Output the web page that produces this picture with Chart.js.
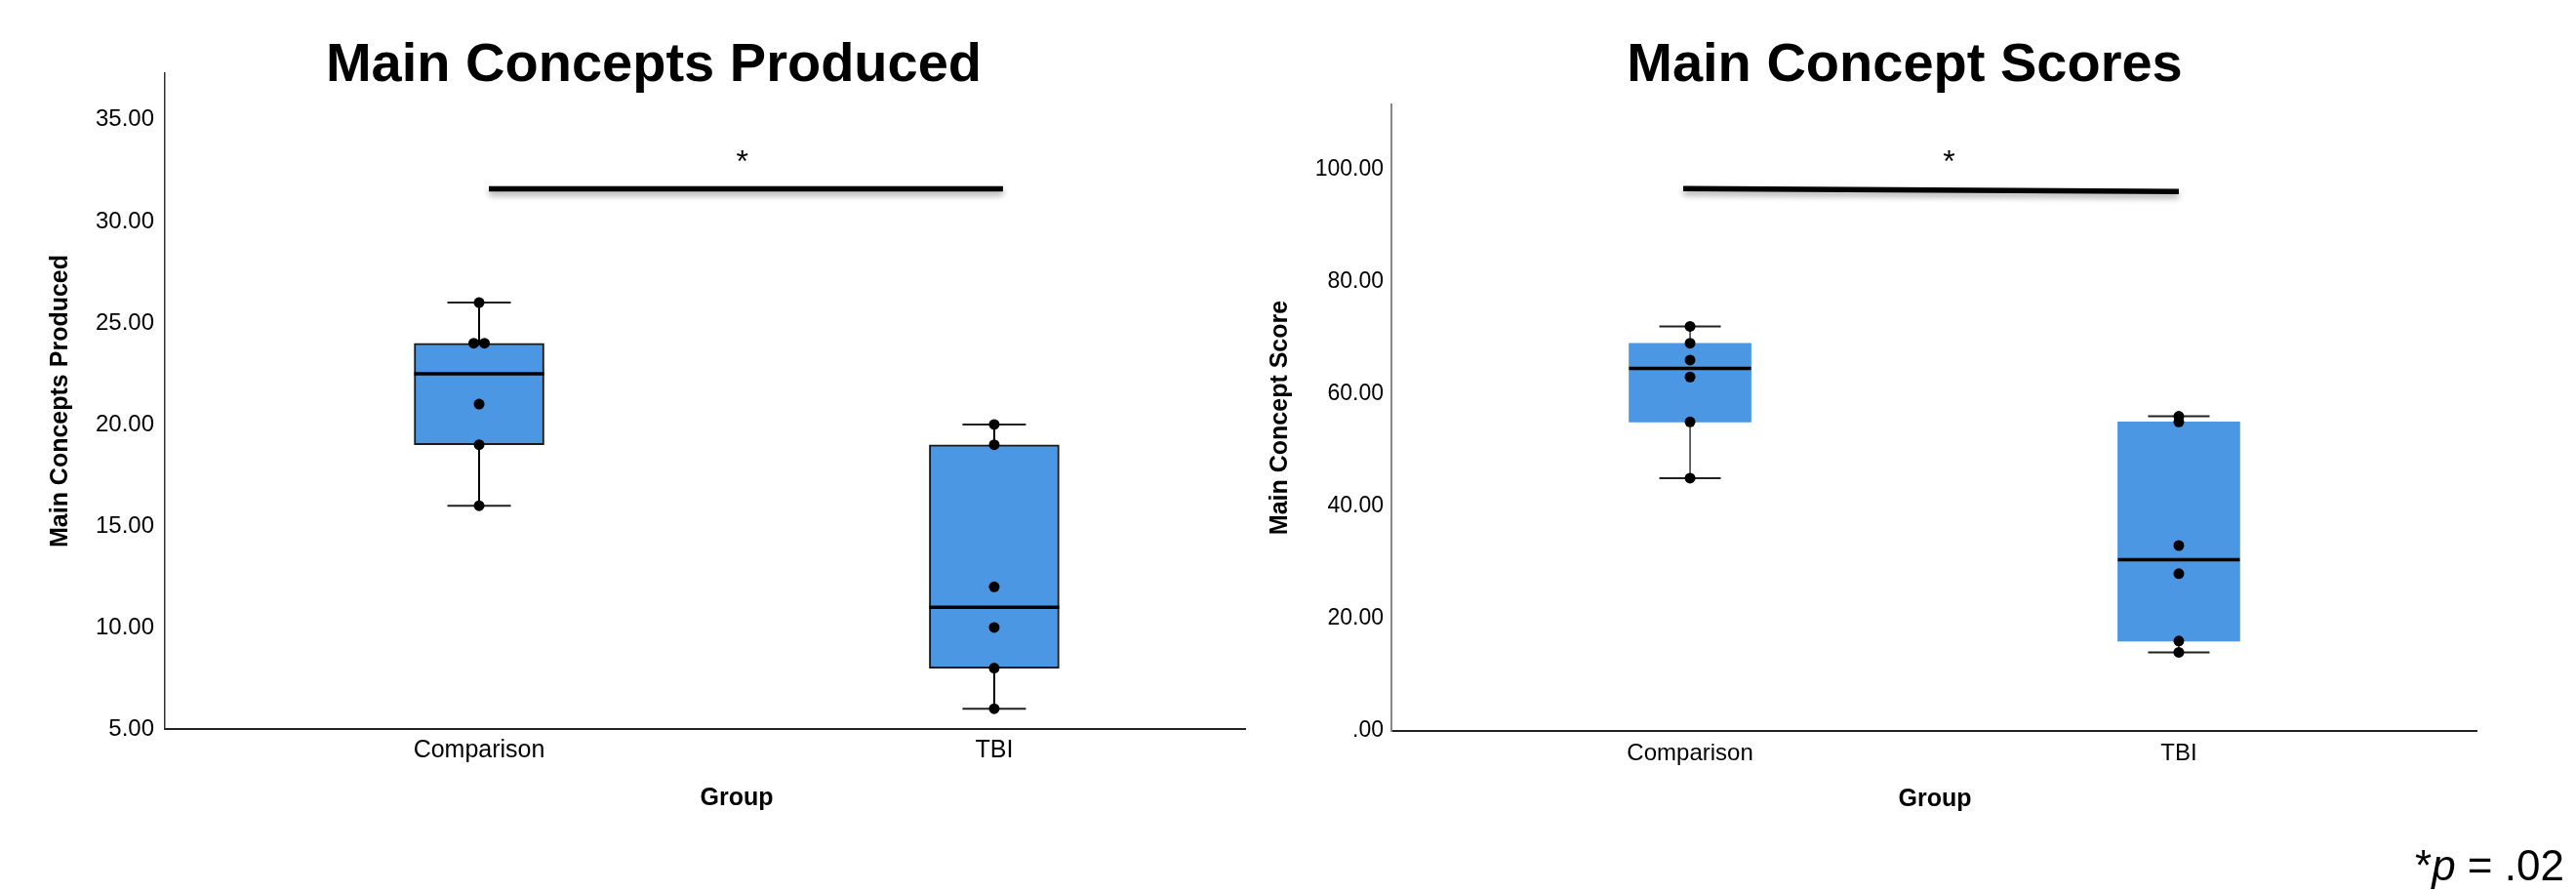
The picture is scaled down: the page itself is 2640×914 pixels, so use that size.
<!DOCTYPE html>
<html>
<head>
<meta charset="utf-8">
<title>Main Concepts</title>
<script src="https://cdn.jsdelivr.net/npm/chart.js@4.4.1/dist/chart.umd.min.js"></script>
<style>
  html, body { margin: 0; padding: 0; background: #fff; }
  body { width: 2640px; height: 914px; position: relative; overflow: hidden; font-family: 'Liberation Sans', Arial, sans-serif; color: #000; }
  canvas { position: absolute; top: 0; }
  #producedChart { left: 0; }
  #scoreChart { left: 1280px; }
  .title { position: absolute; top: 36px; font-weight: bold; font-size: 56px; line-height: 56px; white-space: nowrap; transform: translateX(-50%); }
  .xlabel { position: absolute; font-weight: bold; font-size: 25px; line-height: 25px; white-space: nowrap; transform: translateX(-50%); }
  .note { position: absolute; left: 2475px; top: 865px; font-size: 44px; line-height: 44px; white-space: nowrap; }
</style>
</head>
<body>
<div class="title" style="left:670px">Main Concepts Produced</div>
<div class="title" style="left:1952px">Main Concept Scores</div>
<canvas id="producedChart" width="1290" height="914"></canvas>
<canvas id="scoreChart" width="1320" height="914"></canvas>
<div class="xlabel" style="left:755px; top:804px">Group</div>
<div class="xlabel" style="left:1983px; top:805px">Group</div>
<div class="note">*<i>p</i> = .02</div>

<script>
const groups = ['Comparison', 'TBI'];

// Main Concepts Produced
const producedComparison = [26, 24, 24, 21, 19, 16];
const producedTBI = [20, 19, 12, 10, 8, 6];
const producedMin = [16, 6];
const producedQ1 = [19, 8];
const producedMedian = [22.5, 11];
const producedQ3 = [24, 19];
const producedMax = [26, 20];
const producedTicks = [5, 10, 15, 20, 25, 30, 35];
const producedSigX = [1.019, 2.017];
const producedSigY = [31.6, 31.6];
const producedStar = [1.511, 33.1];

// Main Concept Scores
const scoreComparison = [72, 69, 66, 63, 55, 45];
const scoreTBI = [56, 55, 33, 28, 16, 14];
const scoreMin = [45, 14];
const scoreQ1 = [55, 16];
const scoreMedian = [64.5, 30.5];
const scoreQ3 = [69, 55];
const scoreMax = [72, 56];
const scoreTicks = [0, 20, 40, 60, 80, 100];
const scoreSigX = [0.986, 2.0];
const scoreSigY = [96.5, 96.0];
const scoreStar = [1.53, 101.9];

const BOX_BLUE = '#4c97e3';
const STAR_SIZE = 32;

Chart.defaults.font.family = "'Liberation Sans', Arial, sans-serif";
Chart.defaults.color = '#000';

// equal values sit side by side instead of on top of each other
function dodge(values, xi, step) {
  const seen = {};
  return values.map(v => {
    const n = values.filter(w => w === v).length;
    const k = seen[v] = (seen[v] || 0) + 1;
    return { x: xi + (n > 1 ? (k - 1 - (n - 1) / 2) * step : 0), y: v };
  });
}

const boxPlot = {
  id: 'boxPlot',
  beforeDatasetsDraw(chart, args, o) {
    const { ctx, scales: { x, y } } = chart;
    ctx.save();
    ctx.strokeStyle = '#000';
    ctx.lineWidth = o.whiskerWidth;
    o.min.forEach((lo, i) => {
      const px = x.getPixelForValue(i + 1);
      ctx.beginPath();
      ctx.moveTo(px, y.getPixelForValue(lo));
      ctx.lineTo(px, y.getPixelForValue(o.max[i]));
      ctx.stroke();
    });
    ctx.restore();
  },
  beforeDatasetDraw(chart, args) {
    if (args.meta.type !== 'line') return;
    const ctx = chart.ctx;
    ctx.save();
    ctx.shadowColor = 'rgba(0,0,0,0.35)';
    ctx.shadowBlur = 6;
    ctx.shadowOffsetY = 4;
  },
  afterDatasetDraw(chart, args, o) {
    const { ctx, scales: { x, y } } = chart;
    if (args.meta.type === 'line') { ctx.restore(); return; }
    if (args.meta.type !== 'bar') return;
    ctx.save();
    ctx.strokeStyle = o.capColor;
    ctx.lineWidth = o.capWidth;
    o.min.forEach((lo, i) => {
      const px = x.getPixelForValue(i + 1);
      [lo, o.max[i]].forEach(v => {
        const py = y.getPixelForValue(v);
        ctx.beginPath();
        ctx.moveTo(px - o.capHalf, py);
        ctx.lineTo(px + o.capHalf, py);
        ctx.stroke();
      });
    });
    ctx.strokeStyle = '#000';
    ctx.lineWidth = o.medianWidth;
    o.median.forEach((m, i) => {
      const px = x.getPixelForValue(i + 1);
      const py = y.getPixelForValue(m);
      ctx.beginPath();
      ctx.moveTo(px - o.boxHalf, py);
      ctx.lineTo(px + o.boxHalf, py);
      ctx.stroke();
    });
    ctx.restore();
  },
  afterDatasetsDraw(chart, args, o) {
    const { ctx, scales: { x, y } } = chart;
    ctx.save();
    ctx.fillStyle = '#000';
    ctx.font = STAR_SIZE + "px 'Liberation Sans', Arial, sans-serif";
    ctx.textAlign = 'center';
    ctx.textBaseline = 'alphabetic';
    ctx.fillText('*', x.getPixelForValue(o.star[0]), y.getPixelForValue(o.star[1]) + STAR_SIZE * 0.42);
    ctx.restore();
  }
};

function buildChart(id, s) {
  return new Chart(document.getElementById(id), {
    type: 'bar',
    data: {
      datasets: [
        {
          type: 'bar',
          data: groups.map((g, i) => ({ x: i + 1, y: [s.q1[i], s.q3[i]] })),
          backgroundColor: BOX_BLUE,
          borderColor: '#1a1a1a',
          borderWidth: s.boxBorder,
          borderSkipped: false,
          barThickness: s.boxWidth,
          order: 3
        },
        {
          type: 'line',
          data: s.sigX.map((v, i) => ({ x: v, y: s.sigY[i] })),
          borderColor: '#000',
          borderWidth: 5.5,
          pointRadius: 0,
          order: 2
        },
        {
          type: 'scatter',
          data: [...dodge(s.first, 1, s.dodge), ...dodge(s.second, 2, s.dodge)],
          backgroundColor: '#000',
          borderWidth: 0,
          pointRadius: 5.5,
          order: 1
        }
      ]
    },
    options: {
      responsive: false,
      animation: false,
      events: [],
      layout: { padding: { top: s.padTop, right: s.padRight, left: 0, bottom: 0 } },
      plugins: {
        legend: { display: false },
        tooltip: { enabled: false },
        boxPlot: {
          min: s.min, median: s.median, max: s.max, star: s.star,
          boxHalf: s.boxWidth / 2, capHalf: s.capHalf, capWidth: 2, capColor: '#222',
          whiskerWidth: s.whiskerWidth, medianWidth: 3.5
        }
      },
      scales: {
        x: {
          type: 'linear',
          min: s.xMin,
          max: s.xMax,
          offset: false,
          grid: { display: false, drawTicks: false },
          border: { display: true, color: '#222', width: 2 },
          afterBuildTicks: sc => { sc.ticks = groups.map((g, i) => ({ value: i + 1 })); },
          ticks: { autoSkip: false, maxRotation: 0, padding: s.xTickPad, font: { size: s.xTickSize }, callback: v => groups[v - 1] },
          afterFit: sc => { sc.height = s.xAxisHeight; }
        },
        y: {
          type: 'linear',
          min: s.yMin,
          max: s.yMax,
          grid: { display: false, drawTicks: false },
          border: { display: true, color: s.yBorderColor, width: s.yBorderWidth },
          afterBuildTicks: sc => { sc.ticks = s.ticks.map(v => ({ value: v })); },
          ticks: { padding: s.yTickPad, font: { size: s.yTickSize }, callback: s.format },
          title: { display: true, text: s.yTitle, font: { size: 25, weight: 'bold' }, padding: { top: s.yTitlePad, bottom: 0 } },
          afterFit: sc => { sc.width = s.yAxisWidth; }
        }
      }
    },
    plugins: [boxPlot]
  });
}

buildChart('producedChart', {
  first: producedComparison, second: producedTBI,
  min: producedMin, q1: producedQ1, median: producedMedian, q3: producedQ3, max: producedMax,
  ticks: producedTicks, sigX: producedSigX, sigY: producedSigY, star: producedStar,
  format: v => v.toFixed(2),
  yTitle: 'Main Concepts Produced',
  yMin: 5, yMax: 37.3, xMin: 0.39, xMax: 2.487,
  boxWidth: 133, capHalf: 32.5, boxBorder: 2, whiskerWidth: 2, dodge: 0.0208,
  padTop: 75, padRight: 14, yAxisWidth: 169, xAxisHeight: 167,
  yBorderColor: '#333', yBorderWidth: 1.5, yTickPad: 11, yTickSize: 24, yTitlePad: 47,
  xTickPad: 7, xTickSize: 25
});

buildChart('scoreChart', {
  first: scoreComparison, second: scoreTBI,
  min: scoreMin, q1: scoreQ1, median: scoreMedian, q3: scoreQ3, max: scoreMax,
  ticks: scoreTicks, sigX: scoreSigX, sigY: scoreSigY, star: scoreStar,
  format: v => v === 0 ? '.00' : v.toFixed(2),
  yTitle: 'Main Concept Score',
  yMin: 0, yMax: 111.5, xMin: 0.389, xMax: 2.609,
  boxWidth: 125, capHalf: 31.5, boxBorder: 0, whiskerWidth: 1.2, dodge: 0.022,
  padTop: 107, padRight: 62, yAxisWidth: 146, xAxisHeight: 165,
  yBorderColor: '#888', yBorderWidth: 2, yTickPad: 8, yTickSize: 23, yTitlePad: 17,
  xTickPad: 8.6, xTickSize: 24
});
</script>
</body>
</html>
